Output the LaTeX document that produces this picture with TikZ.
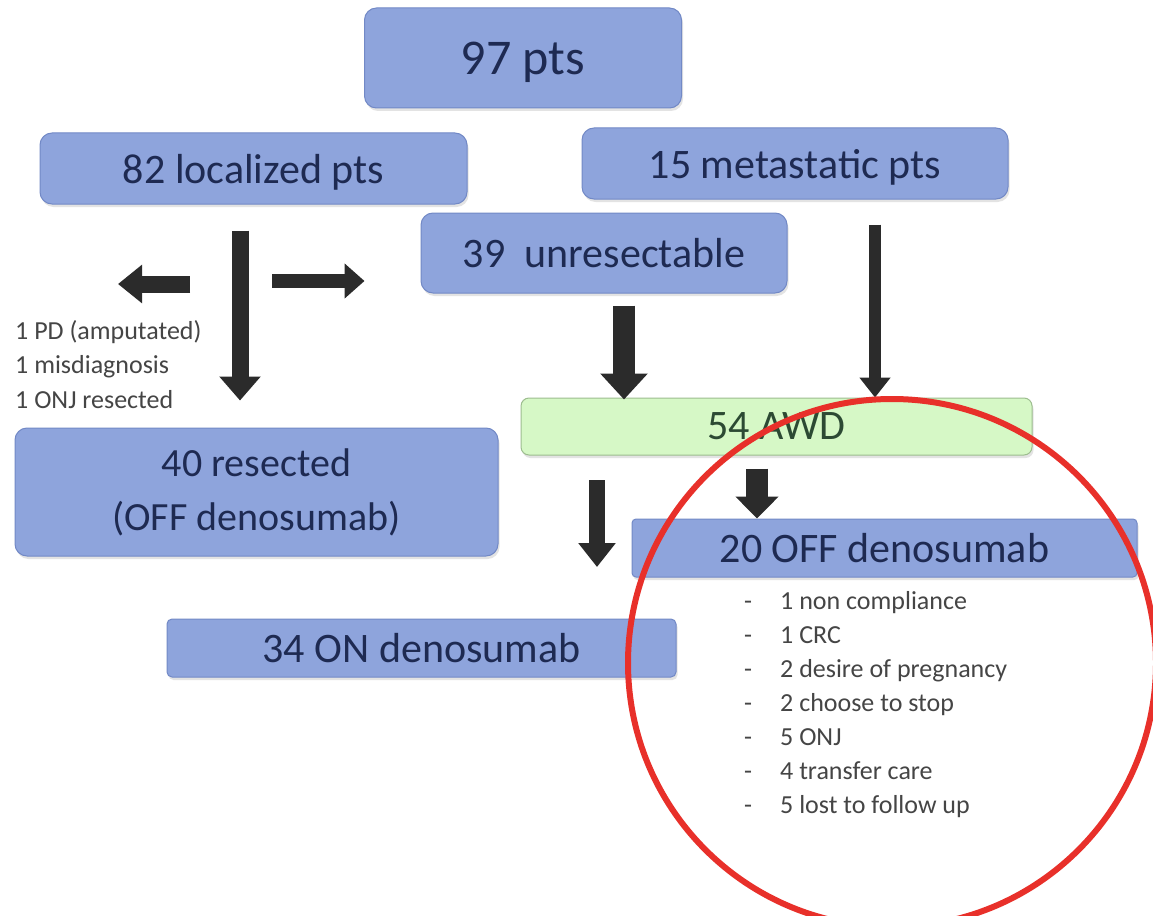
\documentclass[tikz,border=0pt]{standalone}
\usepackage{fontspec}
\setmainfont{Carlito}
\usetikzlibrary{arrows.meta,calc,shadows}
\definecolor{boxblue}{HTML}{8EA4DC}
\definecolor{boxedge}{HTML}{7289C6}
\definecolor{boxtext}{HTML}{1E2A52}
\definecolor{awdfill}{HTML}{D6F8C6}
\definecolor{awdedge}{HTML}{9DBD8F}
\definecolor{awdtext}{HTML}{2C4A33}
\definecolor{arrowdark}{HTML}{2B2B2B}
\definecolor{listgray}{HTML}{454545}
\definecolor{ringred}{HTML}{E8302A}
\tikzset{
  softshadow/.style={drop shadow={opacity=0.22, shadow xshift=1.5pt, shadow yshift=-3pt}},
  bluebox/.style={draw=boxedge, line width=1pt, fill=boxblue, text=boxtext, rounded corners=12pt, inner sep=0pt, align=center, text depth=0pt, softshadow, font=\fontsize{42}{54}\selectfont},
  greenbox/.style={draw=awdedge, line width=1pt, fill=awdfill, text=awdtext, rounded corners=8pt, inner sep=0pt, align=center, text depth=0pt, softshadow, font=\fontsize{42}{54}\selectfont},
  bigarrow/.style={draw=arrowdark, line width=#1},
  bigarrow/.default=17pt,
  listtext/.style={text=listgray, inner sep=0pt, font=\fontsize{26}{34}\selectfont},
}
\begin{document}
\begin{tikzpicture}[x=1pt,y=-1pt]
\useasboundingbox (0,0) rectangle (1153,915);
\fill[white] (0,0) rectangle (1153,915);
% boxes
\node[bluebox, minimum width=317pt, minimum height=100pt, font=\fontsize{50}{60}\selectfont] (n97) at (523,58) {97 pts};
\node[bluebox, minimum width=427pt, minimum height=71pt] (loc) at (253.5,168.5) {82 localized pts};
\node[bluebox, minimum width=426pt, minimum height=71pt] (met) at (795,163.5) {15 metastatic pts};
\node[bluebox, minimum width=366pt, minimum height=80pt] (unres) at (604,253) {39\ \ unresectable};
\node[greenbox, minimum width=511pt, minimum height=57pt] (awd) at (776.5,426.5) {54 AWD};
\node[bluebox, text depth=, minimum width=483pt, minimum height=128pt, font=\fontsize{40}{54}\selectfont] (resec) at (256.5,492) {40 resected\\(OFF denosumab)};
\node[bluebox, rounded corners=4pt, minimum width=505pt, minimum height=58pt] (off) at (884.5,548) {20 OFF denosumab};
\node[bluebox, rounded corners=5pt, minimum width=509pt, minimum height=58pt] (on) at (421.5,648) {34 ON denosumab};
% arrow end points
\coordinate (a1s) at ($(loc.south)+(-13.5,26)$);
\coordinate (a1e) at ($(resec.north)+(-16.5,-27)$);
\coordinate (a2s) at (190,284);
\coordinate (a2e) at (118,284);
\coordinate (a3s) at (272,281);
\coordinate (a3e) at ($(unres.west)+(-56,28)$);
\coordinate (a4s) at ($(unres.south)+(20,12)$);
\coordinate (a4e) at ($(awd.north)+(-152.5,2)$);
\coordinate (a5s) at ($(met.south)+(80,25)$);
\coordinate (a5e) at ($(awd.north)+(98.5,0)$);
\coordinate (a6s) at ($(awd.south)+(-19.5,13)$);
\coordinate (a6e) at ($(off.north)+(-127.5,0)$);
\coordinate (a7s) at (597,480);
\coordinate (a7e) at (597,567);
% arrows
\draw[bigarrow=17pt, -{Triangle[width=40pt,length=24pt]}] (a1s) -- (a1e);
\draw[bigarrow=17pt, -{Triangle[width=37pt,length=24pt]}] (a2s) -- (a2e);
\draw[bigarrow=14pt, -{Triangle[width=34pt,length=20pt]}] (a3s) -- (a3e);
\draw[bigarrow=22pt, -{Triangle[width=46pt,length=26pt]}] (a4s) -- (a4e);
\draw[bigarrow=12pt, -{Triangle[width=30pt,length=20pt]}] (a5s) -- (a5e);
\draw[bigarrow=22pt, -{Triangle[width=42pt,length=22pt]}] (a6s) -- (a6e);
\draw[bigarrow=16pt, -{Triangle[width=36pt,length=24pt]}] (a7s) -- (a7e);
% left list
\node[listtext, anchor=base west] (x1) at (15,339) {1 PD (amputated)};
\node[listtext, anchor=base west] (x2) at (15,373) {1 misdiagnosis};
\node[listtext, anchor=base west] (x3) at (15,408) {1 ONJ resected};
% right list
\foreach \t [count=\i] in {1 non compliance, 1 CRC, 2 desire of pregnancy, 2 choose to stop, 5 ONJ, 4 transfer care, 5 lost to follow up}{
  \node[listtext, anchor=base west] (d\i) at (744,{609+34*(\i-1)}) {-};
  \node[listtext, anchor=base west] (l\i) at (780,{609+34*(\i-1)}) {\t};
}
% red ring
\draw[ringred, line width=6pt] (892,663) ellipse [x radius=264pt, y radius=264pt];
\end{tikzpicture}
\end{document}
